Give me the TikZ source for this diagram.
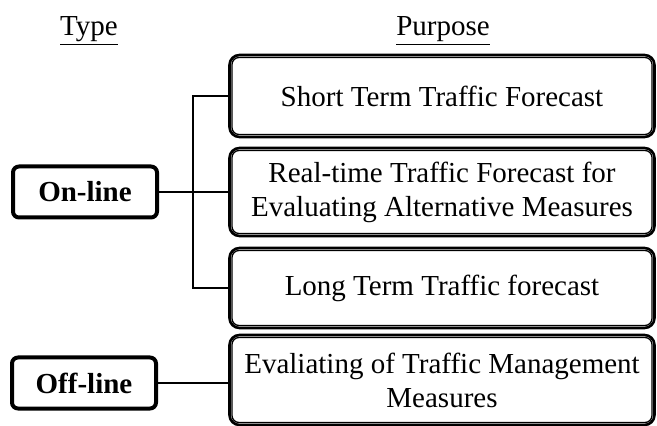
\documentclass[tikz,border=0pt]{standalone}
\usepackage{fontspec}
\setmainfont{Liberation Serif}
\usepackage{tikz}
\usetikzlibrary{positioning}

\begin{document}
\begin{tikzpicture}[
        x=0.5pt, y=-0.5pt,
        font=\fontsize{14.5}{17}\selectfont,
        typebox/.style={rectangle, draw=black, line width=2pt, rounded corners=3pt, fill=white, align=center, minimum height=25.5pt, minimum width=72pt, font=\fontsize{14.5}{17}\selectfont\bfseries},
        purposebox/.style={rectangle, draw=black, line width=1.3pt, rounded corners=5pt, fill=white, align=center, minimum width=212.5pt, inner sep=2pt},
        inner/.style={line width=0.65pt, rounded corners=3.5pt},
        link/.style={line width=0.6pt}
    ]

    \useasboundingbox (0,0) rectangle (657,426);

    % Titres
    \node (typehead) at (89,31) {\underline{Type}};
    \node (purposehead) at (443,31) {\underline{Purpose}};

    % Purpose
    \node[purposebox, minimum height=41pt] (short) at (442,96) {Short Term Traffic Forecast};
    \node[purposebox, minimum height=44pt] (realtime) at (442,192) {Real-time Traffic Forecast for\\Evaluating Alternative Measures};
    \node[purposebox, minimum height=40pt] (long) at (442,288) {Long Term Traffic forecast};
    \node[purposebox, minimum height=45pt] (evalmm) at (442,380) {Evaliating of Traffic Management\\Measures};

    % double bord
    \foreach \n in {short,realtime,long,evalmm}
        \draw[inner] ([shift={(3.8,-3.8)}]\n.south west) rectangle ([shift={(-3.8,3.8)}]\n.north east);

    % Type
    \node[typebox] (online) at (85,192) {On-line};
    \node[typebox] (offline) at (84,383) {Off-line};

    % Liens
    \coordinate (bus) at (193,192);
    \draw[link] (short.west) -| (bus) |- (long.west);
    \draw[link] (online.east) -- (online.east -| realtime.west);
    \draw[link] (offline.east) -- (offline.east -| evalmm.west);

\end{tikzpicture}
\end{document}
